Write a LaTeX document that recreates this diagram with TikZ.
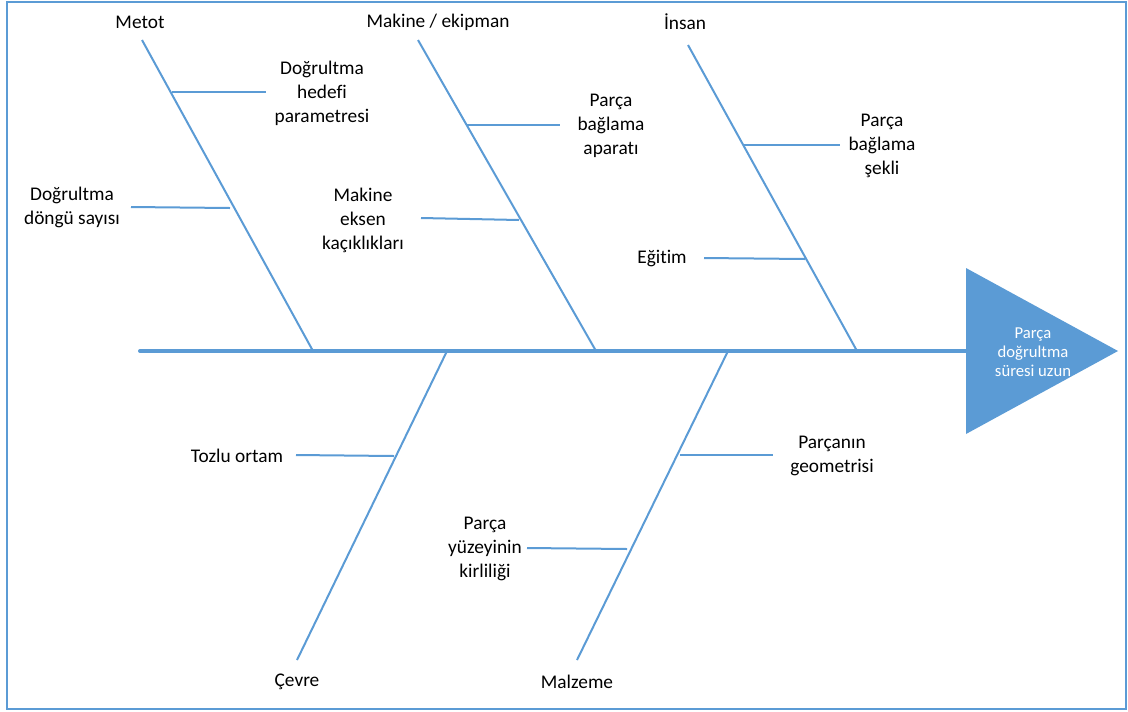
\documentclass[tikz,border=0pt]{standalone}
\usepackage{fontspec}
\setmainfont{Carlito}[Ligatures=NoCommon]
\definecolor{fishblue}{RGB}{91,155,213}

\begin{document}
\begin{tikzpicture}[x=0.75pt,y=-0.75pt,
	spine/.style={draw=fishblue, line width=3pt, line cap=round},
	bone/.style={draw=fishblue, line width=1.5pt},
	rib/.style={draw=fishblue, line width=1.5pt},
	lbl/.style={font=\fontsize{14.5}{18}\selectfont, align=center, inner sep=2pt},
	headlbl/.style={font=\fontsize{12.5}{14.25}\selectfont, align=center, text=white}]
	
	% --- Frame
	\useasboundingbox (0,0) rectangle (1128,711);
	\draw[fishblue, line width=1.5pt] (7,2) rectangle (1126,709);
	
	% --- Head (effect)
	\fill[fishblue] (966,268) -- (1118,351) -- (966,434) -- cycle;
	\node[headlbl] (effect) at (1033,352) {Parça\\doğrultma\\süresi uzun};
	
	% --- Spine
	\coordinate (tail) at (140,351);
	\coordinate (head) at (966,351);
	\draw[spine] (tail) -- (head);
	
	% --- Main bones: category labels, top and bottom ends
	\node[lbl] (metot) at (140,22) {Metot};
	\node[lbl] (makine) at (438,22) {Makine / ekipman};
	\node[lbl] (insan) at (685,22) {İnsan};
	\node[lbl] (cevre) at (297,682) {Çevre};
	\node[lbl] (malzeme) at (577,682) {Malzeme};
	
	\coordinate (metotTop) at (142,40);   \coordinate (metotFoot) at (313,351);
	\coordinate (makineTop) at (418,40);  \coordinate (makineFoot) at (596,351);
	\coordinate (insanTop) at (688,45);   \coordinate (insanFoot) at (857,351);
	\coordinate (cevreTop) at (447,351);  \coordinate (cevreFoot) at (297,660);
	\coordinate (malzTop) at (728,351);   \coordinate (malzFoot) at (577,660);
	
	\draw[bone] (metotTop) -- (metotFoot);
	\draw[bone] (makineTop) -- (makineFoot);
	\draw[bone] (insanTop) -- (insanFoot);
	\draw[bone] (cevreTop) -- (cevreFoot);
	\draw[bone] (malzTop) -- (malzFoot);
	
	% --- Causes (ribs) on each bone
	% Metot
	\node[lbl] (hedef) at (322,93) {Doğrultma\\hedefi\\parametresi};
	\coordinate (hedefOn) at (172,92);
	\draw[rib] (hedefOn) -- (266,92);
	\node[lbl] (dongu) at (72,207) {Doğrultma\\döngü sayısı};
	\coordinate (donguOn) at (230,208);
	\draw[rib] (131,207) -- (donguOn);
	
	% Makine / ekipman
	\node[lbl] (aparat) at (611,126) {Parça\\bağlama\\aparatı};
	\coordinate (aparatOn) at (467,125);
	\draw[rib] (aparatOn) -- (560,125);
	\node[lbl] (eksen) at (363,220) {Makine\\eksen\\kaçıklıkları};
	\coordinate (eksenOn) at (519,220);
	\draw[rib] (421,218) -- (eksenOn);
	
	% İnsan
	\node[lbl] (sekil) at (882,146) {Parça\\bağlama\\şekli};
	\coordinate (sekilOn) at (744,145);
	\draw[rib] (sekilOn) -- (840,145);
	\node[lbl] (egitim) at (662,259) {Eğitim};
	\coordinate (egitimOn) at (805,259);
	\draw[rib] (704,258) -- (egitimOn);
	
	% Çevre
	\node[lbl] (tozlu) at (237,456) {Tozlu ortam};
	\coordinate (tozluOn) at (394,456);
	\draw[rib] (296,455) -- (tozluOn);
	
	% Malzeme
	\node[lbl] (geometri) at (832,456) {Parçanın\\geometrisi};
	\coordinate (geometriOn) at (680,455);
	\draw[rib] (geometriOn) -- (773,455);
	\node[lbl] (kirlilik) at (485,549) {Parça\\yüzeyinin\\kirliliği};
	\coordinate (kirlilikOn) at (627,549);
	\draw[rib] (527,548) -- (kirlilikOn);
	
\end{tikzpicture}
\end{document}
